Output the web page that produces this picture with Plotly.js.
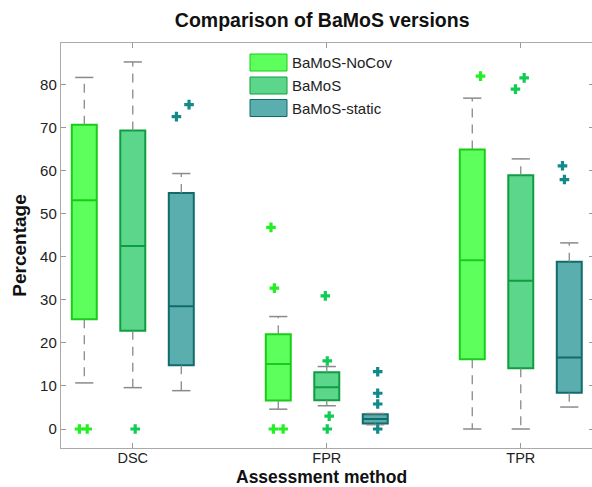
<!DOCTYPE html>
<html><head><meta charset="utf-8">
<script src="https://cdn.plot.ly/plotly-3.0.1.min.js"></script>
<style>html,body{margin:0;padding:0;overflow:hidden;background:#fff}</style>
</head><body><div id="chart" style="width:594px;height:487px"></div>
<script>
// ---- data ----
const categories = ['DSC', 'FPR', 'TPR'];
const seriesNames = ['BaMoS-NoCov', 'BaMoS', 'BaMoS-static'];

// BaMoS-NoCov (DSC, FPR, TPR)
const q1NoCov  = [25.5, 6.6, 16.2];
const medNoCov = [53.1, 15.1, 39.2];
const q3NoCov  = [70.6, 22.0, 64.9];
const loNoCov  = [10.7, 4.6, 0];
const hiNoCov  = [81.6, 26.1, 76.8];
const outNoCov = [[0, 0], [46.8, 32.7, 0, 0], [81.9]];
const jitNoCov = [[-0.1, 0.06], [-0.15, -0.08, -0.1, 0.1], [0.17]];

// BaMoS
const q1BaMoS  = [22.8, 6.7, 14.1];
const medBaMoS = [42.5, 9.7, 34.4];
const q3BaMoS  = [69.3, 13.2, 58.9];
const loBaMoS  = [9.6, 5.4, 0];
const hiBaMoS  = [85.2, 14.5, 62.7];
const outBaMoS = [[0], [30.9, 15.8, 3.0, 0], [81.5, 78.9]];
const jitBaMoS = [[0.05], [-0.03, 0.01, 0.05, 0.01], [0.07, -0.11]];

// BaMoS-static
const q1Static  = [14.8, 1.3, 8.4];
const medStatic = [28.5, 2.3, 16.6];
const q3Static  = [54.8, 3.4, 38.8];
const loStatic  = [8.9, 1.0, 5.1];
const hiStatic  = [59.3, 3.6, 43.2];
const outStatic = [[72.5, 75.3], [13.3, 8.3, 5.8, 0], [61.1, 57.9]];
const jitStatic = [[-0.1, 0.16], [0.05, 0.05, 0.05, 0.05], [-0.14, -0.1]];

const yTicks = [0, 10, 20, 30, 40, 50, 60, 70, 80];

// ---- styling ----
const groupCenters = [1, 5, 9];
const seriesOffsets = [-1, 0, 1];
const fills   = ['#5CFF5C', '#5CD68A', '#5BAEAE'];
const borders = ['#19CC19', '#0E9E42', '#126B6B'];
const outCols = ['#22F022', '#10CC55', '#128A8A'];
const whiskerCol = '#8a8a8a';
const boxW = 0.515;

const series = [
  {q1: q1NoCov, med: medNoCov, q3: q3NoCov, lo: loNoCov, hi: hiNoCov, out: outNoCov, jit: jitNoCov},
  {q1: q1BaMoS, med: medBaMoS, q3: q3BaMoS, lo: loBaMoS, hi: hiBaMoS, out: outBaMoS, jit: jitBaMoS},
  {q1: q1Static, med: medStatic, q3: q3Static, lo: loStatic, hi: hiStatic, out: outStatic, jit: jitStatic}
];

const traces = [];
series.forEach((s, si) => {
  const pos = groupCenters.map(c => c + seriesOffsets[si]);
  const wx = [], wy = [];
  pos.forEach((p, i) => {
    wx.push(p, p, null, p, p, null);
    wy.push(s.q3[i], s.hi[i], null, s.q1[i], s.lo[i], null);
  });
  traces.push({type: 'scatter', mode: 'lines', x: wx, y: wy, showlegend: false, hoverinfo: 'skip',
    line: {color: whiskerCol, width: 1.3, dash: '9px,7px'}});
  const cx = [], cy = [];
  pos.forEach((p, i) => { cx.push(p, p); cy.push(s.hi[i], s.lo[i]); });
  traces.push({type: 'scatter', mode: 'markers', x: cx, y: cy, showlegend: false, hoverinfo: 'skip',
    marker: {symbol: 'line-ew', size: 13, line: {color: whiskerCol, width: 1.5}}});
  traces.push({type: 'box', name: seriesNames[si], x: pos, q1: s.q1, median: s.med, q3: s.q3,
    lowerfence: s.q1, upperfence: s.q3, width: boxW, whiskerwidth: 0, boxpoints: false,
    fillcolor: fills[si], line: {color: borders[si], width: 2}, showlegend: false});
  const ox = [], oy = [];
  pos.forEach((p, i) => {
    s.out[i].forEach((v, k) => { ox.push(p + s.jit[i][k]); oy.push(v); });
  });
  traces.push({type: 'scatter', mode: 'markers', x: ox, y: oy, showlegend: false, name: seriesNames[si],
    marker: {symbol: 'cross', size: 8, color: outCols[si], line: {width: 0}}});
});

// manual legend (pixel -> paper)
const L = 61, T = 43, W = 533, H = 405;
const px = v => (v - L) / W;
const py = v => (T + H - v) / H;
const shapes = [], annotations = [];
const legendRows = [54, 77, 99.5];
seriesNames.forEach((n, i) => {
  const top = legendRows[i];
  shapes.push({type: 'rect', xref: 'paper', yref: 'paper', x0: px(250), x1: px(287), y0: py(top), y1: py(top + 17),
    fillcolor: fills[i], line: {color: borders[i], width: 1}});
  annotations.push({xref: 'paper', yref: 'paper', x: px(290), y: py(top + 8.5), xanchor: 'left', yanchor: 'middle',
    text: n, showarrow: false, font: {family: 'Liberation Sans, Arial, sans-serif', size: 15, color: '#222'}});
});
// x-axis title placed as annotation just under the tick labels
annotations.push({xref: 'paper', yref: 'paper', x: px(321), y: py(477), xanchor: 'center', yanchor: 'middle',
  borderpad: 0, text: 'Assessment method', showarrow: false,
  font: {family: 'Liberation Sans, Arial, sans-serif', size: 17.5, weight: 'bold', color: '#111'}});

const layout = {
  width: 594, height: 487,
  margin: {l: L, r: 0, t: T, b: 487 - T - H},
  paper_bgcolor: '#fff', plot_bgcolor: '#fff',
  font: {family: 'Liberation Sans, Arial, sans-serif', size: 15, color: '#222'},
  title: {text: 'Comparison of BaMoS versions', x: 0.49, xref: 'paper', xanchor: 'center', y: 1 - 20 / 487, yanchor: 'middle',
    font: {size: 19.5, weight: 'bold', color: '#111'}},
  showlegend: false,
  xaxis: {range: [-0.48, 10.51], tickvals: groupCenters, ticktext: categories, ticks: 'inside', ticklen: 5,
    tickcolor: '#999', showline: true, linecolor: '#aaa', linewidth: 1.2, mirror: 'ticks', showgrid: false, zeroline: false,
    tickfont: {size: 14.5}, ticklabelstandoff: -4},
  yaxis: {range: [-4.41, 89.6], tickvals: yTicks, ticks: 'inside', ticklen: 5, tickcolor: '#999',
    showline: true, linecolor: '#aaa', linewidth: 1.2, mirror: 'ticks', showgrid: false, zeroline: false,
    tickfont: {size: 15}, title: {text: 'Percentage', standoff: 8, font: {size: 19, weight: 'bold', color: '#111'}}},
  shapes: shapes,
  annotations: annotations
};

Plotly.newPlot('chart', traces, layout, {displayModeBar: false, staticPlot: true});
</script></body></html>
